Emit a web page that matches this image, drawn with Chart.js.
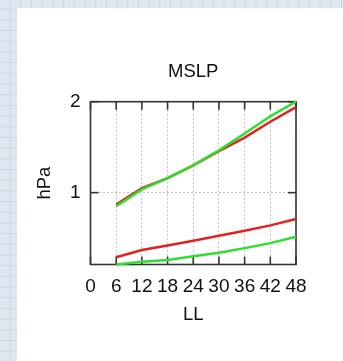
<!DOCTYPE html>
<html>
<head>
<meta charset="utf-8">
<script src="https://cdn.jsdelivr.net/npm/chart.js@4/dist/chart.umd.min.js"></script>
<style>
  html, body { margin: 0; padding: 0; width: 343px; height: 361px; overflow: hidden; }
  body {
    background-color: #dfe8f1;
    background-image:
      linear-gradient(#c8d6e4 1px, transparent 1px),
      linear-gradient(90deg, #c8d6e4 1px, transparent 1px);
    background-size: 10.7px 10.7px;
    background-position: -1px -2px;
  }
  #panel { position: absolute; left: 17px; top: 8px; right: 0; bottom: 0; background: #fff; }
  #wrap { position: absolute; left: 0; top: 0; width: 343px; height: 361px; }
</style>
</head>
<body>
<div id="panel"></div>
<div id="wrap"><canvas id="chart"></canvas></div>
<script>
// Forecast lead times (h) and axis ticks
const leads  = [6, 12, 18, 24, 30, 36, 42, 48];
const xTicks = [0, 6, 12, 18, 24, 30, 36, 42, 48];
const yTicks = [1, 2];

// MSLP scores (hPa) for the two runs
const redUpper   = [0.87, 1.05, 1.16, 1.30, 1.455, 1.605, 1.78, 1.94];
const greenUpper = [0.85, 1.035, 1.16, 1.30, 1.465, 1.65, 1.84, 2.00];
const redLower   = [0.29, 0.37, 0.42, 0.47, 0.525, 0.58, 0.64, 0.71];
const greenLower = [0.21, 0.24, 0.26, 0.30, 0.34, 0.39, 0.445, 0.515];

const RED = '#e3211f';
const GREEN = '#2bdf2b';
const INK = '#111';
const FAMILY = '"Liberation Sans", Arial, sans-serif';
const TICK_FONT = { family: FAMILY, size: 19, weight: 'normal' };
const TEXT_FONT = { family: FAMILY, size: 18.5, weight: 'normal' };

const pts = arr => leads.map((x, i) => ({ x, y: arr[i] }));
const line = (data, color) => ({
  data: pts(data), borderColor: color, borderWidth: 2.5,
  pointRadius: 0, tension: 0, clip: false, fill: false
});

// Box frame with inward tick marks on all four sides
const frame = {
  id: 'frame',
  beforeDatasetsDraw(chart) {
    const { ctx, chartArea: { left, right, top, bottom } } = chart;
    const xs = chart.scales.x, ys = chart.scales.y;
    const seg = (x1, y1, x2, y2) => { ctx.beginPath(); ctx.moveTo(x1, y1); ctx.lineTo(x2, y2); ctx.stroke(); };
    ctx.save();
    ctx.strokeStyle = '#333';
    ctx.lineWidth = 1.6;
    xTicks.forEach(v => {
      const px = xs.getPixelForValue(v);
      seg(px, bottom, px, bottom - 8);
      seg(px, top, px, top + 8);
    });
    yTicks.forEach(v => {
      const py = ys.getPixelForValue(v);
      seg(left, py, left + 8, py);
      seg(right, py, right - 8, py);
    });
    ctx.strokeRect(left, top, right - left, bottom - top);
    ctx.restore();
  }
};

const innerGrid = (lo, hi) => c => (c.tick && c.tick.value > lo && c.tick.value < hi) ? '#c2c2c2' : 'transparent';

new Chart(document.getElementById('chart'), {
  type: 'line',
  data: {
    datasets: [
      line(greenUpper, GREEN),
      line(greenLower, GREEN),
      line(redUpper, RED),
      line(redLower, RED)
    ]
  },
  options: {
    responsive: true,
    maintainAspectRatio: false,
    animation: false,
    devicePixelRatio: 1,
    layout: { padding: { left: 0, right: 47, top: 0, bottom: 0 } },
    plugins: {
      legend: { display: false },
      tooltip: { enabled: false },
      title: {
        display: true, text: 'MSLP', color: INK, font: TEXT_FONT,
        fullSize: false,
        padding: { top: 61, bottom: 18.5 }
      }
    },
    scales: {
      x: {
        type: 'linear', min: 0, max: 48,
        afterBuildTicks: s => { s.ticks = xTicks.map(v => ({ value: v })); },
        afterFit: s => { s.height = 96.5; },
        grid: { drawTicks: false, color: innerGrid(0, 48), lineWidth: 1 },
        border: { display: false, dash: [2, 2] },
        ticks: { padding: 10.5, color: INK, font: TICK_FONT, maxRotation: 0, autoSkip: false },
        title: { display: true, text: 'LL', color: INK, font: TEXT_FONT, padding: { top: 0, bottom: 35 } }
      },
      y: {
        type: 'linear', min: Math.min(...greenLower), max: 2,
        afterBuildTicks: s => { s.ticks = yTicks.map(v => ({ value: v })); },
        afterFit: s => { s.width = 90.5; },
        grid: { drawTicks: false, color: innerGrid(0, 2), lineWidth: 1 },
        border: { display: false, dash: [2, 2] },
        ticks: { padding: 10, color: INK, font: TICK_FONT },
        title: { display: true, text: 'hPa', color: INK, font: TEXT_FONT, padding: { top: 34, bottom: 0 } }
      }
    }
  },
  plugins: [frame]
});
</script>
</body>
</html>
